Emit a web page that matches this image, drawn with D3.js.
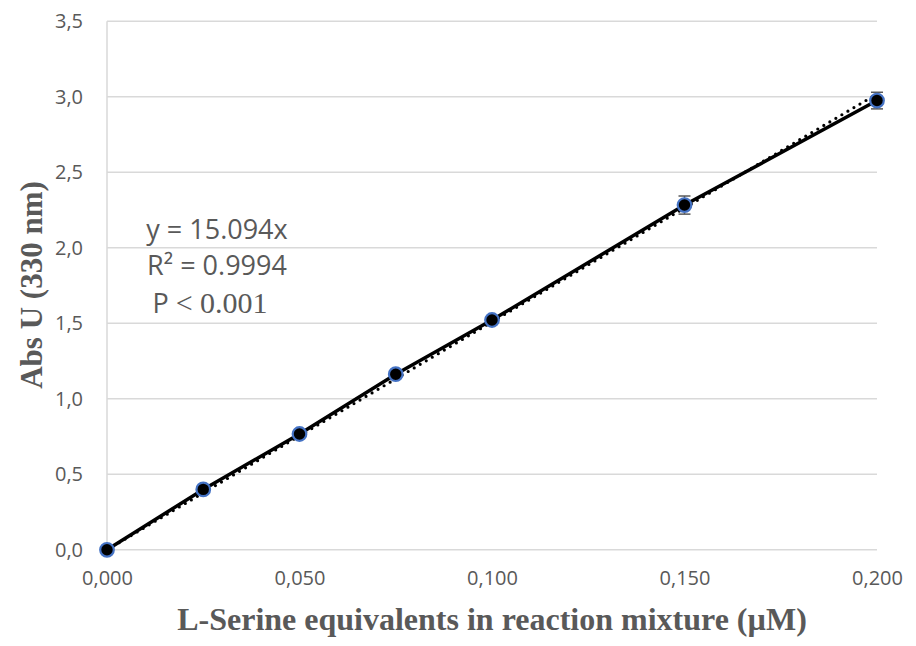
<!DOCTYPE html>
<html>
<head>
<meta charset="utf-8">
<script src="https://cdn.jsdelivr.net/npm/d3@7"></script>
<style>
  html, body { margin: 0; padding: 0; background: #fff; }
  svg { display: block; }
</style>
</head>
<body>
<svg id="chart" width="916" height="646"></svg>
<script>
// Calibration data: L-Serine equivalents (µM) vs absorbance at 330 nm
const concentrations = [0, 0.025, 0.05, 0.075, 0.1, 0.15, 0.2];
const absorbance     = [0, 0.40, 0.767, 1.163, 1.522, 2.283, 2.975];
const absError       = [0, 0.01, 0.012, 0.012, 0.015, 0.06, 0.055];
const slope = 15.094;
const xTicks = [0, 0.05, 0.1, 0.15, 0.2];
const yTicks = [0, 0.5, 1.0, 1.5, 2.0, 2.5, 3.0, 3.5];

const svg = d3.select("#chart");
const margin = { left: 107, right: 39, top: 21, bottom: 96 };
const W = 916, H = 646;

const x = d3.scaleLinear().domain([0, 0.2]).range([margin.left, W - margin.right]);
const y = d3.scaleLinear().domain([0, 3.5]).range([H - margin.bottom - 0.2, margin.top + 0.3]);

const comma = s => s.replace(".", ",");
const gridColor = "#d9d9d9";
const textColor = "#595959";
const sans = "'Open Sans', 'Noto Sans', sans-serif";
const serif = "'Liberation Serif', 'Times New Roman', serif";

// Horizontal gridlines
svg.append("g")
  .selectAll("line")
  .data(yTicks)
  .join("line")
  .attr("x1", x(0)).attr("x2", x(0.2))
  .attr("y1", d => y(d)).attr("y2", d => y(d))
  .attr("stroke", gridColor).attr("stroke-width", 1.5);

// Left axis line
svg.append("line")
  .attr("x1", x(0)).attr("x2", x(0))
  .attr("y1", y(0)).attr("y2", y(3.5))
  .attr("stroke", gridColor).attr("stroke-width", 1.5);

// Y tick labels
const yAxis = d3.axisLeft(y).tickValues(yTicks).tickSize(0).tickPadding(24)
  .tickFormat(d => comma(d3.format(".1f")(d)));
const gy = svg.append("g").attr("transform", `translate(${x(0)},0)`).call(yAxis);
gy.select(".domain").remove();
gy.selectAll("text")
  .attr("fill", textColor)
  .style("font-family", sans)
  .style("font-size", "20px");

// X tick labels
const xAxis = d3.axisBottom(x).tickValues(xTicks).tickSize(0).tickPadding(21)
  .tickFormat(d => comma(d3.format(".3f")(d)));
const gx = svg.append("g").attr("transform", `translate(0,${y(0)})`).call(xAxis);
gx.select(".domain").remove();
gx.selectAll("text")
  .attr("fill", textColor)
  .style("font-family", sans)
  .style("font-size", "20px");

// Linear trendline through the origin (dotted)
svg.append("line")
  .attr("x1", x(0)).attr("y1", y(0))
  .attr("x2", x(0.2)).attr("y2", y(slope * 0.2))
  .attr("stroke", "#000").attr("stroke-width", 3.2)
  .attr("stroke-linecap", "round")
  .attr("stroke-dasharray", "0 7");

// Data line
const pts = concentrations.map((c, i) => ({ c, a: absorbance[i], e: absError[i] }));
svg.append("path")
  .datum(pts)
  .attr("d", d3.line().x(d => x(d.c)).y(d => y(d.a)))
  .attr("fill", "none").attr("stroke", "#000").attr("stroke-width", 3.5);

// Error bars
const eb = svg.append("g").attr("stroke", "#595959").attr("stroke-width", 1.5);
pts.forEach(d => {
  eb.append("line").attr("x1", x(d.c)).attr("x2", x(d.c))
    .attr("y1", y(d.a - d.e)).attr("y2", y(d.a + d.e));
  [d.a - d.e, d.a + d.e].forEach(v => {
    eb.append("line").attr("x1", x(d.c) - 6).attr("x2", x(d.c) + 6)
      .attr("y1", y(v)).attr("y2", y(v));
  });
});

// Markers
svg.append("g")
  .selectAll("circle")
  .data(pts)
  .join("circle")
  .attr("cx", d => x(d.c)).attr("cy", d => y(d.a))
  .attr("r", 6.8)
  .attr("fill", "#000")
  .attr("stroke", "#4472c4").attr("stroke-width", 2.2);

// Regression annotation
const ann = svg.append("g").attr("fill", textColor)
  .style("font-family", sans)
  .style("font-size", "27px");
ann.append("text").attr("x", 217).attr("y", 239).attr("text-anchor", "middle").text("y = 15.094x");
ann.append("text").attr("x", 217).attr("y", 275).attr("text-anchor", "middle").text("R² = 0.9994");
const p = ann.append("text").attr("x", 210).attr("y", 313).attr("text-anchor", "middle");
p.append("tspan").text("P ");
p.append("tspan").style("font-family", serif)
  .style("font-size", "30px").text("< 0.001");

// Axis titles
svg.append("text")
  .attr("x", 492).attr("y", 630)
  .attr("text-anchor", "middle")
  .attr("fill", textColor)
  .style("font-family", serif)
  .style("font-weight", "bold").style("font-size", "32px")
  .text("L-Serine equivalents in reaction mixture (µM)");

svg.append("text")
  .attr("transform", "translate(42,285) rotate(-90)")
  .attr("text-anchor", "middle")
  .attr("fill", textColor)
  .style("font-family", serif)
  .style("font-weight", "bold").style("font-size", "31px")
  .text("Abs U (330 nm)");
</script>
</body>
</html>
